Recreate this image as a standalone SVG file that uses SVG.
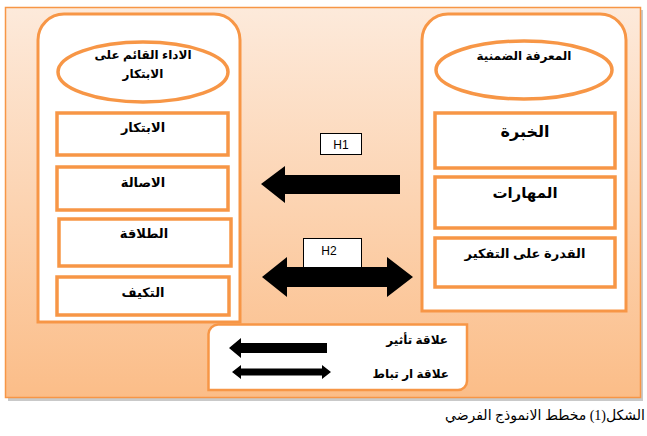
<svg xmlns="http://www.w3.org/2000/svg" width="647" height="436" viewBox="0 0 647 436">
<defs>
<linearGradient id="bg" x1="0" y1="0" x2="0" y2="1">
<stop offset="0" stop-color="#fdeadb"/>
<stop offset="1" stop-color="#fbbd88"/>
</linearGradient>
<style>
.panel{fill:#fff;stroke:#f79646;stroke-width:3}
.box{fill:#fff;stroke:#f79646;stroke-width:3.5}
.lbl{font-family:"Liberation Sans","DejaVu Sans",sans-serif;font-weight:bold;fill:#000;text-anchor:middle}
.h{fill:#fff;stroke:#000;stroke-width:1}
.ht{font-family:"Liberation Sans",Arial,sans-serif;font-size:12px;fill:#000;text-anchor:middle}
.arr{fill:#000}
</style>
</defs>
<rect width="647" height="436" fill="#fff"/>
<rect x="8" y="10" width="635" height="391" fill="#c9c9c9"/>
<rect x="5.5" y="7.5" width="635" height="390" fill="url(#bg)" stroke="#f79646" stroke-width="1.5"/>

<g id="left-panel">
<path class="panel" d="M38,322 V40 A26,26 0 0 1 64,14 H214 A26,26 0 0 1 240,40 V322 Z"/>
</g>
<g id="right-panel">
<path class="panel" d="M422,311 V40 A26,26 0 0 1 448,14 H600 A26,26 0 0 1 626,40 V311 Z"/>
</g>

<g id="node-performance">
<ellipse class="box" cx="143" cy="72" rx="85" ry="30" stroke-width="3"/>
<text class="lbl" x="143" y="59" font-size="12">الاداء القائم على</text>
<text class="lbl" x="143" y="78" font-size="12">الابتكار</text>
</g>
<g id="node-tacit">
<ellipse class="box" cx="524" cy="70" rx="88" ry="29" stroke-width="3"/>
<text class="lbl" x="524" y="60" font-size="12">المعرفة الضمنية</text>
</g>

<g id="node-innovation">
<rect class="box" x="57" y="113" width="171" height="42"/>
<text class="lbl" x="143" y="132" font-size="13">الابتكار</text>
</g>
<g id="node-originality">
<rect class="box" x="57" y="167" width="171" height="43"/>
<text class="lbl" x="143" y="187" font-size="13">الاصالة</text>
</g>
<g id="node-fluency">
<rect class="box" x="59" y="219" width="172" height="47"/>
<text class="lbl" x="144" y="238" font-size="13">الطلاقة</text>
</g>
<g id="node-adaptation">
<rect class="box" x="57" y="277" width="172" height="38"/>
<text class="lbl" x="143" y="297" font-size="13">التكيف</text>
</g>

<g id="node-experience">
<rect class="box" x="435" y="113" width="180" height="55"/>
<text class="lbl" x="525" y="137" font-size="16">الخبرة</text>
</g>
<g id="node-skills">
<rect class="box" x="435" y="177" width="180" height="51"/>
<text class="lbl" x="525" y="198" font-size="15">المهارات</text>
</g>
<g id="node-thinking">
<rect class="box" x="435" y="238" width="180" height="49"/>
<text class="lbl" x="525" y="258" font-size="13">القدرة على التفكير</text>
</g>

<g id="connectors">
<rect class="h" x="320.5" y="133.5" width="41" height="21"/>
<text class="ht" x="341" y="149">H1</text>
<polygon class="arr" points="261,184 285,166 285,175 400,175 400,194 285,194 285,203"/>
<rect class="h" x="303.5" y="238.5" width="58" height="29"/>
<text class="ht" x="329" y="255">H2</text>
<polygon class="arr" points="262,277 287,257 287,267 387,267 387,257 413,277 387,297 387,287 287,287 287,297"/>
</g>

<g id="legend">
<path d="M218,324.5 H467 V381 A9,9 0 0 1 458,390 H208.5 V334 A10,10 0 0 1 218,324.5 Z" fill="#fff" stroke="#f79646" stroke-width="2.5"/>
<text class="lbl" x="448" y="344" font-size="12" text-anchor="end" style="text-anchor:end">علاقة تأثير</text>
<polygon class="arr" points="229,348 241,338 241,343 327,343 327,353 241,353 241,358"/>
<polygon class="arr" points="232,372 241,365 241,368.5 322,368.5 322,365 331,372 322,379 322,375.5 241,375.5 241,379"/>
<text class="lbl" x="449" y="378" font-size="12" style="text-anchor:end">علاقة ار تباط</text>
</g>

<text x="645" y="420" font-family="'Liberation Serif','DejaVu Serif','DejaVu Sans',serif" font-size="14" text-anchor="end" fill="#000">الشكل(1) مخطط الانموذج الفرضي</text>
</svg>
